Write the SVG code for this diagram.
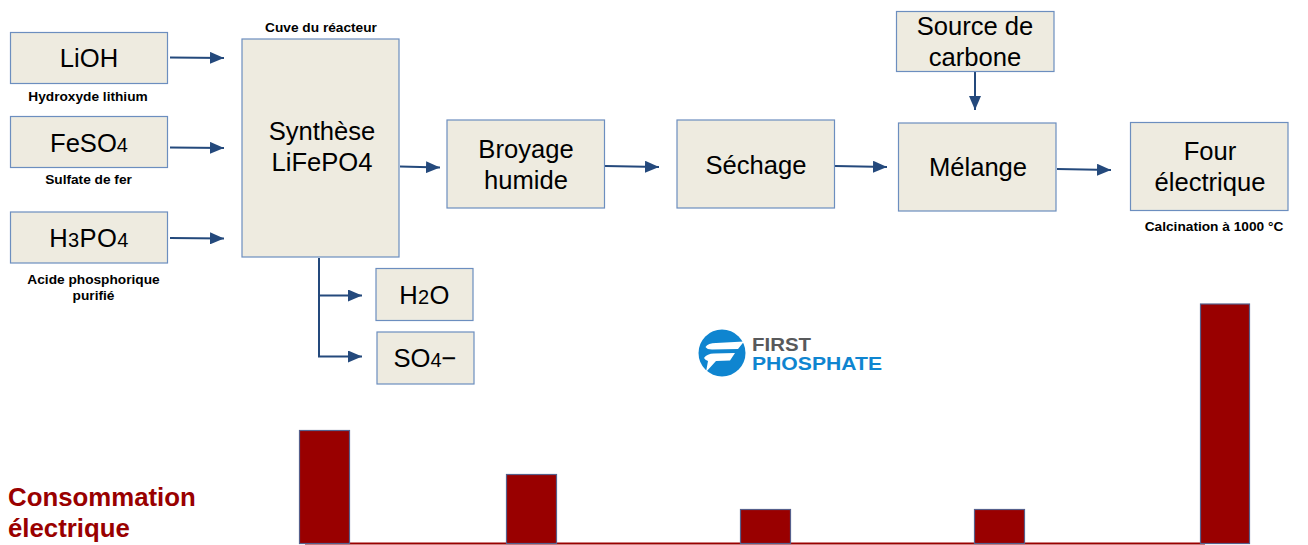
<svg xmlns="http://www.w3.org/2000/svg" width="1308" height="545" viewBox="0 0 1308 545">
<style>
text{font-family:"Liberation Sans",Arial,sans-serif;text-anchor:middle;fill:#000}
.b{fill:#eeebe0;stroke:#6c8ebf;stroke-width:1.2}
.t{font-size:25.6px}
.s{font-size:13.7px;font-weight:bold}
.c{fill:none;stroke:#24497c;stroke-width:2}
.bar{fill:#990000;stroke:#56608c;stroke-width:1.2}
.logo{text-anchor:start;font-size:17.500px;font-weight:bold}
.red{text-anchor:start;font-size:25.800px;font-weight:bold;fill:#990000}
</style>
<defs><marker id="a" markerUnits="userSpaceOnUse" markerWidth="14" markerHeight="12" refX="14" refY="6" orient="auto"><path d="M0 0L14 6L0 12Z" fill="#24497c"/></marker></defs>
<rect width="1308" height="545" fill="#fff"/>
<g id="connectors">
<path class="c" marker-end="url(#a)" d="M170 57.500L224 58"/>
<path class="c" marker-end="url(#a)" d="M170 147.500L224 148"/>
<path class="c" marker-end="url(#a)" d="M170 238L224 238.500"/>
<path class="c" marker-end="url(#a)" d="M400 166.500L440 167.500"/>
<path class="c" marker-end="url(#a)" d="M605 166L659 167"/>
<path class="c" marker-end="url(#a)" d="M835 166L887 167"/>
<path class="c" marker-end="url(#a)" d="M1057 169L1111 170"/>
<path class="c" marker-end="url(#a)" d="M975 72V110"/>
<path class="c" marker-end="url(#a)" d="M319 258V295.500H362"/>
<path class="c" marker-end="url(#a)" d="M319 295.500V356.500H362"/>
</g>
<g id="lioh"><rect class="b" x="10.500" y="32.500" width="157" height="51"/><text class="t" x="89" y="67">LiOH</text><text class="s" x="88" y="100.500">Hydroxyde lithium</text></g>
<g id="feso4"><rect class="b" x="10.500" y="116.500" width="157" height="51"/><text class="t" x="89" y="152">FeSO<tspan font-size="20">4</tspan></text><text class="s" x="88.500" y="183.500">Sulfate de fer</text></g>
<g id="h3po4"><rect class="b" x="10.500" y="212" width="157" height="51"/><text class="t" x="89" y="247" letter-spacing="0.4">H<tspan font-size="20">3</tspan>PO<tspan font-size="20">4</tspan></text><text class="s" x="93.500" y="283.500">Acide phosphorique</text><text class="s" x="93.500" y="299.500">purifié</text></g>
<g id="reactor"><text class="s" x="321" y="32">Cuve du réacteur</text><rect class="b" x="242" y="39" width="157" height="218"/><text class="t" x="322" y="140">Synthèse</text><text class="t" x="322" y="170.500">LiFePO4</text></g>
<g id="broyage"><rect class="b" x="447" y="120" width="157.500" height="88"/><text class="t" x="526" y="158">Broyage</text><text class="t" x="526" y="189">humide</text></g>
<g id="sechage"><rect class="b" x="677" y="120" width="157.500" height="88"/><text class="t" x="756" y="174">Séchage</text></g>
<g id="carbone"><rect class="b" x="896.500" y="11.500" width="157.500" height="60"/><text class="t" x="975" y="35">Source de</text><text class="t" x="975" y="66">carbone</text></g>
<g id="melange"><rect class="b" x="898.500" y="123" width="157.500" height="88"/><text class="t" x="978" y="176">Mélange</text></g>
<g id="four"><rect class="b" x="1130.500" y="122.500" width="157.500" height="88"/><text class="t" x="1210" y="160">Four</text><text class="t" x="1210" y="191">électrique</text><text class="s" x="1214" y="231">Calcination à 1000 °C</text></g>
<g id="h2o"><rect class="b" x="376" y="268.500" width="97" height="52"/><text class="t" x="424.500" y="304" letter-spacing="0.4">H<tspan font-size="20">2</tspan>O</text></g>
<g id="so4"><rect class="b" x="377" y="332" width="97" height="52"/><text class="t" x="425" y="367">SO<tspan font-size="20">4</tspan>−</text></g>
<g id="logo">
<circle cx="722" cy="353" r="23.500" fill="#0f85d0"/>
<path d="M705.500 347Q708 343 716 343L744 341.500L738 349L712 349.500Q707 349.500 705.500 347ZM704 358Q707 353.500 714 353.500L735 353L730 360.500L716 361L706 372L708 361Q705 360 704 358Z" fill="#fff"/>
<text class="logo" x="752" y="350.500" fill="#58595b" style="fill:#58595b" textLength="59" lengthAdjust="spacingAndGlyphs">FIRST</text>
<text class="logo" x="752" y="370" style="fill:#0f85d0" textLength="130" lengthAdjust="spacingAndGlyphs">PHOSPHATE</text>
</g>
<g id="chart">
<path d="M305 543.500H1205" stroke="#990000" stroke-width="2" fill="none"/>
<rect class="bar" x="299.500" y="430.500" width="50" height="113"/>
<rect class="bar" x="506.500" y="474.500" width="50" height="69"/>
<rect class="bar" x="740.500" y="509.500" width="50" height="34"/>
<rect class="bar" x="974.500" y="509.500" width="50" height="34"/>
<rect class="bar" x="1200.500" y="304" width="49" height="239.500"/>
<text class="red" x="8" y="506">Consommation</text>
<text class="red" x="8" y="537">électrique</text>
</g>
</svg>
